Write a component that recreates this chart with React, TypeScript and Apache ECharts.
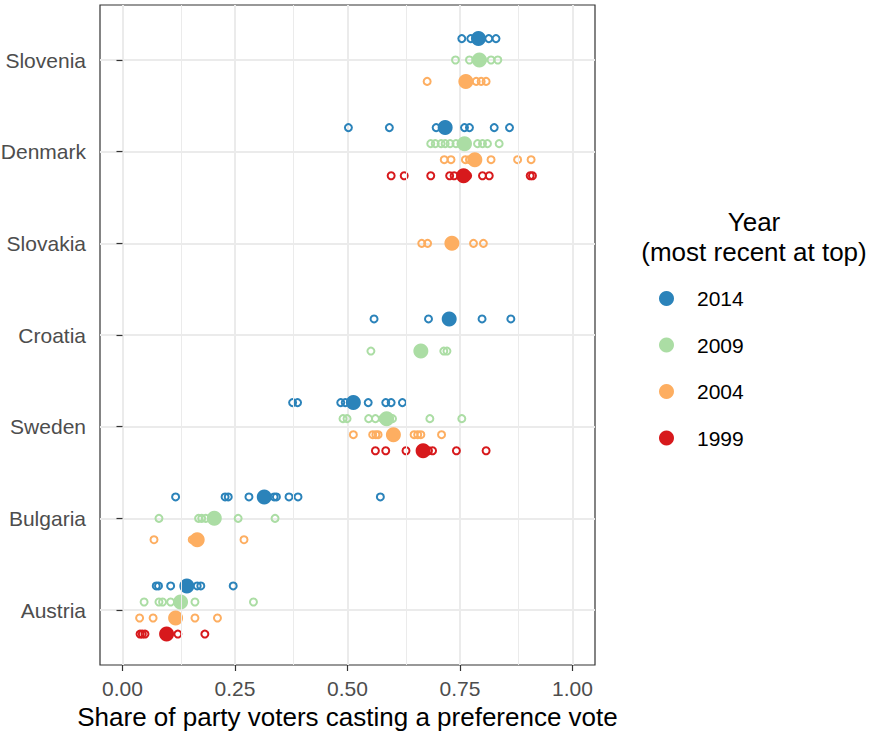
import React, { useEffect, useRef } from "react";
import * as echarts from "echarts";

// Countries from bottom (1) to top (7)
const countries = ["Austria", "Bulgaria", "Sweden", "Croatia", "Slovakia", "Denmark", "Slovenia"];
const years = ["2014", "2009", "2004", "1999"];
const yearColors = ["#2B83BA", "#ABDDA4", "#FDAE61", "#D7191C"];
const xTicks = [0, 0.25, 0.5, 0.75, 1];
const xMinorBreaks = [0.125, 0.375, 0.625, 0.875];
const countryTicks = [1, 2, 3, 4, 5, 6, 7];

// Individual parties (open circles)
const parties2014: Record<string, number[]> = {
  Slovenia: [0.754, 0.774, 0.795, 0.814, 0.83],
  Denmark: [0.502, 0.593, 0.697, 0.76, 0.771, 0.826, 0.86],
  Croatia: [0.559, 0.68, 0.799, 0.863],
  Sweden: [0.378, 0.389, 0.485, 0.495, 0.546, 0.585, 0.597, 0.622],
  Bulgaria: [0.118, 0.228, 0.235, 0.281, 0.337, 0.342, 0.37, 0.39, 0.573],
  Austria: [0.075, 0.08, 0.107, 0.166, 0.174, 0.246],
};
const parties2009: Record<string, number[]> = {
  Slovenia: [0.74, 0.771, 0.785, 0.8, 0.819, 0.834],
  Denmark: [0.685, 0.695, 0.708, 0.717, 0.728, 0.741, 0.752, 0.789, 0.8, 0.811, 0.837],
  Croatia: [0.552, 0.714, 0.721],
  Sweden: [0.49, 0.499, 0.547, 0.562, 0.578, 0.6, 0.683, 0.754],
  Bulgaria: [0.081, 0.169, 0.176, 0.185, 0.257, 0.339],
  Austria: [0.048, 0.081, 0.089, 0.107, 0.161, 0.291],
};
const parties2004: Record<string, number[]> = {
  Slovenia: [0.677, 0.77, 0.786, 0.797, 0.808],
  Denmark: [0.715, 0.73, 0.762, 0.771, 0.819, 0.878, 0.908],
  Slovakia: [0.665, 0.678, 0.78, 0.802],
  Sweden: [0.513, 0.556, 0.563, 0.568, 0.648, 0.656, 0.663, 0.709],
  Bulgaria: [0.07, 0.155, 0.27],
  Austria: [0.038, 0.068, 0.161, 0.211],
};
const parties1999: Record<string, number[]> = {
  Denmark: [0.597, 0.626, 0.685, 0.727, 0.737, 0.767, 0.8, 0.815, 0.906, 0.911],
  Sweden: [0.562, 0.585, 0.63, 0.68, 0.689, 0.742, 0.808],
  Austria: [0.039, 0.044, 0.05, 0.123, 0.183],
};

// Country-level shares (filled circles)
const means2014: Record<string, number> = {
  Slovenia: 0.791, Denmark: 0.717, Croatia: 0.726, Sweden: 0.513, Bulgaria: 0.315, Austria: 0.143,
};
const means2009: Record<string, number> = {
  Slovenia: 0.793, Denmark: 0.76, Croatia: 0.663, Sweden: 0.587, Bulgaria: 0.204, Austria: 0.129,
};
const means2004: Record<string, number> = {
  Slovenia: 0.763, Denmark: 0.783, Slovakia: 0.732, Sweden: 0.602, Bulgaria: 0.166, Austria: 0.118,
};
const means1999: Record<string, number> = {
  Denmark: 0.758, Sweden: 0.668, Austria: 0.098,
};

const partiesByYear = [parties2014, parties2009, parties2004, parties1999];
const meansByYear = [means2014, means2009, means2004, means1999];

const DODGE = 0.7;
function yPos(country: string, yearIdx: number): number {
  const base = countries.indexOf(country) + 1;
  const present = years.map((_, k) => k).filter((k) => meansByYear[k][country] !== undefined);
  const n = present.length;
  const i = present.indexOf(yearIdx);
  return base + ((n - 1) / 2 - i) * (DODGE / n);
}

const FONT = "'Liberation Sans', Arial, Helvetica, sans-serif";

function buildOption() {
  const openSeries = years.map((y, k) => {
    const data: number[][] = [];
    Object.keys(partiesByYear[k]).forEach((c) => {
      partiesByYear[k][c].forEach((v) => data.push([v, yPos(c, k)]));
    });
    return {
      type: "scatter",
      name: y + " parties",
      data,
      symbol: "circle",
      symbolSize: 7,
      z: 3,
      itemStyle: { color: "rgba(255,255,255,0)", borderColor: yearColors[k], borderWidth: 2, opacity: 1 },
      emphasis: { disabled: true },
    };
  });
  const meanSeries = years.map((y, k) => {
    const data = Object.keys(meansByYear[k]).map((c) => [meansByYear[k][c], yPos(c, k)]);
    return {
      type: "scatter",
      name: y,
      data,
      symbol: "circle",
      symbolSize: 15,
      z: 4,
      itemStyle: { color: yearColors[k], opacity: 1 },
      emphasis: { disabled: true },
    };
  });
  const minorGrid = {
    type: "scatter",
    name: "minor",
    data: [],
    z: 1,
    silent: true,
    markLine: {
      silent: true,
      symbol: "none",
      label: { show: false },
      animation: false,
      lineStyle: { color: "#EBEBEB", width: 1, type: "solid" },
      data: xMinorBreaks.map((v) => ({ xAxis: v })),
    },
  };

  return {
    animation: false,
    textStyle: { fontFamily: FONT },
    grid: {
      left: 100,
      right: 276,
      top: 5,
      bottom: 66,
      show: true,
      containLabel: false,
      outerBoundsMode: "none",
      borderColor: "#333333",
      borderWidth: 1.2,
      backgroundColor: "transparent",
    },
    xAxis: {
      type: "value",
      min: -0.05,
      max: 1.05,
      name: "Share of party voters casting a preference vote",
      nameLocation: "middle",
      nameGap: 37,
      nameTextStyle: { fontSize: 26, lineHeight: 26, color: "#000000", fontFamily: FONT },
      axisLine: { show: false },
      axisTick: { show: true, customValues: xTicks, length: 6, lineStyle: { color: "#333333", width: 1.2 } },
      axisLabel: {
        customValues: xTicks,
        formatter: (v: number) => v.toFixed(2),
        fontSize: 21,
        color: "#4D4D4D",
        margin: 13,
        fontFamily: FONT,
      },
      splitLine: { show: true, lineStyle: { color: "#EBEBEB", width: 2 } },
    },
    yAxis: {
      type: "value",
      min: 0.4,
      max: 7.6,
      axisLine: { show: false },
      axisTick: { show: true, customValues: countryTicks, length: 6, lineStyle: { color: "#333333", width: 1.2 } },
      axisLabel: {
        customValues: countryTicks,
        formatter: (v: number) => countries[Math.round(v) - 1] || "",
        fontSize: 21,
        color: "#4D4D4D",
        margin: 14,
        fontFamily: FONT,
      },
      splitLine: { show: true, lineStyle: { color: "#EBEBEB", width: 2 } },
    },
    legend: {
      orient: "vertical",
      left: 654,
      top: 283,
      itemWidth: 15,
      itemHeight: 15,
      itemGap: 25.5,
      icon: "circle",
      selectedMode: false,
      data: years,
      textStyle: { fontSize: 21, color: "#000000", fontFamily: FONT, lineHeight: 15, padding: [0, 0, 0, 18] },
    },
    graphic: [
      {
        type: "text",
        x: 754,
        y: 237,
        style: {
          text: "Year\n(most recent at top)",
          align: "center",
          verticalAlign: "middle",
          fontSize: 26,
          lineHeight: 30,
          fill: "#000000",
          fontFamily: FONT,
        },
      },
    ],
    series: [minorGrid, ...openSeries, ...meanSeries],
  };
}

export default function App() {
  const ref = useRef<HTMLDivElement>(null);
  useEffect(() => {
    if (!ref.current) return;
    const chart = echarts.init(ref.current, null, { renderer: "svg" });
    chart.setOption(buildOption() as any);
    return () => chart.dispose();
  }, []);
  return (
    <div
      ref={ref}
      style={{ position: "absolute", left: 0, top: 0, width: 871, height: 731, background: "#ffffff" }}
    />
  );
}
